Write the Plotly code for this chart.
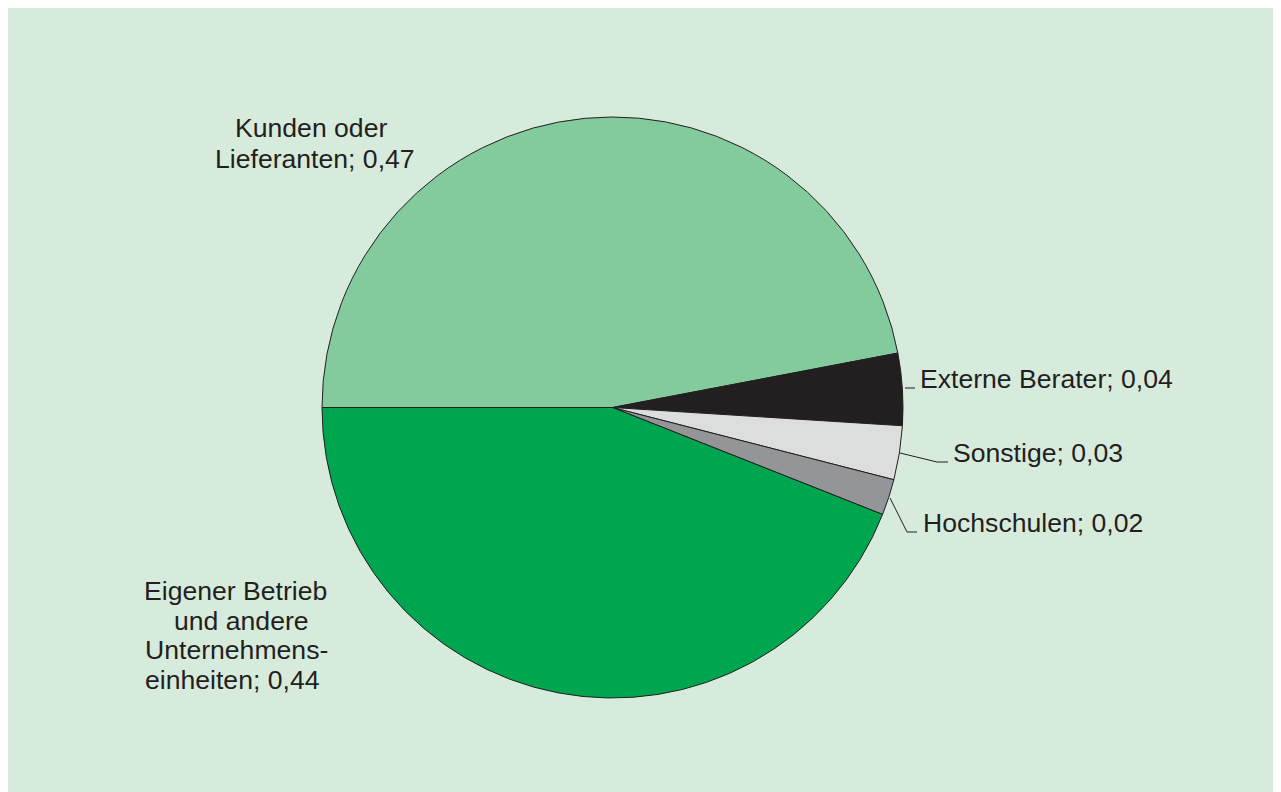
import plotly.graph_objects as go

# ---- data ----
labels = ["Kunden oder Lieferanten", "Externe Berater", "Sonstige", "Hochschulen",
          "Eigener Betrieb und andere Unternehmenseinheiten"]
values = [0.47, 0.04, 0.03, 0.02, 0.44]
value_text = ["0,47", "0,04", "0,03", "0,02", "0,44"]
label_lines = [
    ["Kunden oder", "Lieferanten; 0,47"],
    ["Externe Berater; 0,04"],
    ["Sonstige; 0,03"],
    ["Hochschulen; 0,02"],
    ["Eigener Betrieb", "und andere", "Unternehmens-", "einheiten; 0,44"],
]
colors = ["#83cb9d", "#231f20", "#dcdddd", "#939598", "#00a54f"]

OFF = 8
W, H = 1281 - OFF, 792 - OFF
BG = "#d7ebdd"
TXT = "#231f20"


def P(x, y):
    return (x - OFF) / W, 1 - (y - OFF) / H


cx, cy, r = 612.5, 407.5, 290.5
x0, _ = P(cx - r, 0)
x1, _ = P(cx + r, 0)
_, y1 = P(0, cy - r)
_, y0 = P(0, cy + r)

fig = go.Figure(go.Pie(
    labels=labels, values=values, sort=False, direction="clockwise",
    rotation=270, textinfo="none", hoverinfo="label+value",
    marker=dict(colors=colors, line=dict(color="#231f20", width=1)),
    domain=dict(x=[x0, x1], y=[y0, y1]), showlegend=False,
))

# label placement (page pixels): list of (x, y, anchor) per line
placements = [
    [(311, 128, "center"), (315, 159, "center")],
    [(918, 378.5, "left")],
    [(951, 452.5, "left")],
    [(921, 522.5, "left")],
    [(235, 591, "center"), (241, 620.7, "center"), (237, 650.3, "center"), (232, 680, "center")],
]
anns = []
for lines, pls in zip(label_lines, placements):
    for t, (px, py, anc) in zip(lines, pls):
        ax, ay = P(px, py)
        anns.append(dict(x=ax, y=ay, xref="paper", yref="paper", text=t, showarrow=False,
                         xanchor=anc, yanchor="middle",
                         font=dict(family="Liberation Sans, Arial, sans-serif", size=26.6, color=TXT)))

leaders = [
    [(905, 388), (915, 388)],
    [(900, 453), (937, 462), (948, 462)],
    [(890, 498), (907, 532), (917, 532)],
]
shapes = []
for pts in leaders:
    path = ""
    for i, (px, py) in enumerate(pts):
        X, Y = P(px, py)
        path += ("M" if i == 0 else "L") + f"{X},{Y} "
    shapes.append(dict(type="path", path=path.strip(), xref="paper", yref="paper",
                       line=dict(color=TXT, width=1)))

fig.update_layout(
    width=W, height=H, margin=dict(l=0, r=0, t=0, b=0),
    paper_bgcolor=BG, plot_bgcolor=BG,
    annotations=anns, shapes=shapes,
)
fig.write_html("out.html")
